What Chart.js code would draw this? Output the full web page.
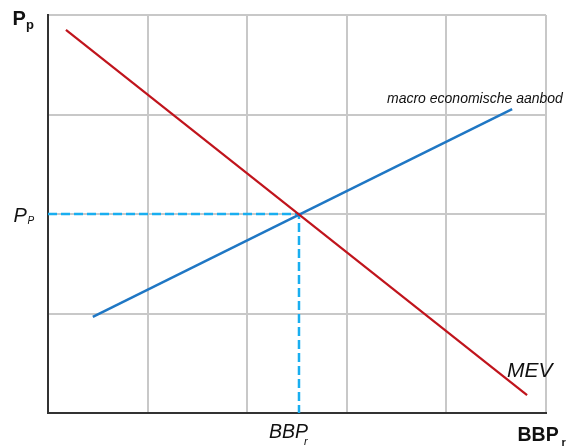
<!DOCTYPE html>
<html>
<head>
<meta charset="utf-8">
<script src="https://cdn.jsdelivr.net/npm/chart.js@4"></script>
<style>
  html, body { margin: 0; padding: 0; background: #fff; }
  #wrap { width: 568px; height: 447px; position: relative; }
</style>
</head>
<body>
<div id="wrap"><canvas id="chart"></canvas></div>
<script>
// demand line (MEV)
const demandX = [0.18, 4.81];
const demandY = [3.85, 0.18];
// supply line (macro economische aanbod)
const supplyX = [0.45, 4.66];
const supplyY = [0.965, 3.055];
// equilibrium point
const eqX = 2.52;
const eqY = 2.0;
// axis ranges
const xTicks = [0, 1, 2, 3, 4, 5];
const yTicks = [0, 1, 2, 3, 4];

function toPoints(xs, ys) {
  return xs.map((x, i) => ({ x: x, y: ys[i] }));
}

const font = '"Liberation Sans", Arial, sans-serif';

// text labels drawn on the canvas
const labelPlugin = {
  id: 'labels',
  afterDraw(chart) {
    const c = chart.ctx;
    const xs = chart.scales.x;
    const ys = chart.scales.y;
    c.save();
    c.fillStyle = '#111';
    c.textBaseline = 'alphabetic';
    c.textAlign = 'left';

    // y axis title
    c.font = 'bold 20px ' + font;
    c.fillText('P', 12.5, 25);
    c.font = 'bold 13px ' + font;
    c.fillText('p', 26, 29);

    // x axis title
    c.font = 'bold 19.5px ' + font;
    c.fillText('BBP', 517.5, 441);
    c.font = 'bold 11px ' + font;
    c.fillText('r', 561.5, 446);

    // equilibrium price
    const py = ys.getPixelForValue(eqY);
    c.font = 'italic 20px ' + font;
    c.fillText('P', 13.5, py + 8);
    c.font = 'italic 10px ' + font;
    c.fillText('P', 27.5, py + 10);

    // equilibrium output
    const px = xs.getPixelForValue(eqX);
    c.font = 'italic 19.5px ' + font;
    c.fillText('BBP', px - 30, 438);
    c.font = 'italic 11px ' + font;
    c.fillText('r', px + 5, 445);

    // curve names
    c.font = 'italic 21px ' + font;
    c.fillText('MEV', 507, 377);
    c.font = 'italic 14px ' + font;
    c.fillText('macro economische aanbod', 387, 103);
    c.restore();
  }
};

new Chart(document.getElementById('chart'), {
  type: 'scatter',
  data: {
    datasets: [
      {
        label: 'prijs',
        data: [{ x: 0, y: eqY }, { x: eqX, y: eqY }, { x: eqX, y: 0 }],
        showLine: true,
        borderColor: '#19aef0',
        borderWidth: 2.5,
        borderDash: [9, 4],
        pointRadius: 0,
        order: 3
      },
      {
        label: 'macro economische aanbod',
        data: toPoints(supplyX, supplyY),
        showLine: true,
        borderColor: '#1f77c4',
        borderWidth: 2.5,
        pointRadius: 0,
        order: 2
      },
      {
        label: 'MEV',
        data: toPoints(demandX, demandY),
        showLine: true,
        borderColor: '#c0141c',
        borderWidth: 2.2,
        pointRadius: 0,
        order: 1
      }
    ]
  },
  options: {
    responsive: true,
    maintainAspectRatio: false,
    animation: false,
    layout: { padding: { left: 48, right: 22, top: 15, bottom: 34 } },
    plugins: {
      legend: { display: false },
      tooltip: { enabled: false }
    },
    scales: {
      x: {
        type: 'linear',
        min: xTicks[0],
        max: xTicks[xTicks.length - 1],
        afterBuildTicks: axis => { axis.ticks = xTicks.map(v => ({ value: v })); },
        ticks: { display: false },
        grid: { color: '#c8c8c8', lineWidth: 2, drawTicks: false },
        border: { color: '#333', width: 2 }
      },
      y: {
        type: 'linear',
        min: yTicks[0],
        max: yTicks[yTicks.length - 1],
        afterBuildTicks: axis => { axis.ticks = yTicks.map(v => ({ value: v })); },
        ticks: { display: false },
        grid: { color: '#c8c8c8', lineWidth: 2, drawTicks: false },
        border: { color: '#333', width: 2 }
      }
    }
  },
  plugins: [labelPlugin]
});
</script>
</body>
</html>
